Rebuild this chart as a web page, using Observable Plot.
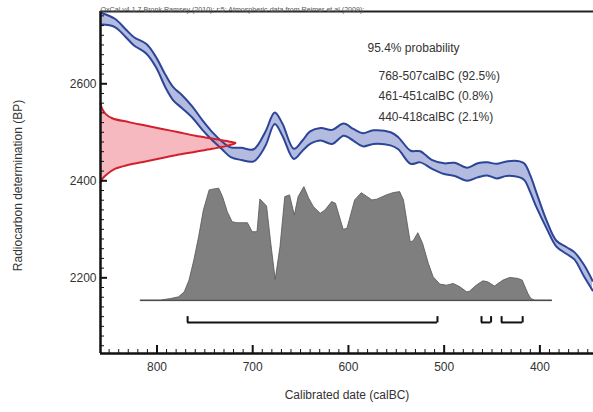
<!DOCTYPE html>
<html><head><meta charset="utf-8">
<script src="https://cdn.jsdelivr.net/npm/d3@7"></script>
<script src="https://cdn.jsdelivr.net/npm/@observablehq/plot@0.6"></script>
<style>html,body{margin:0;padding:0;background:#fff;} #chart svg{display:block}</style>
</head><body><div id="chart"></div>
<script>
// Calibration curve (IntCal09 band): calendar year (calBC), upper and lower BP
const calYears = [858,844,833,824,811,801,791,783,774,763,753,743,732,723,712,699,687,677,669,657,648,640,629,617,605,595,585,574,556,548,535,525,513,500,489,476,465,455,445,435,421,416,410,403,393,383,372,364,354,345];
const upperBP = [2746,2734,2713,2696,2682,2655,2618,2593,2577,2553,2526,2502,2481,2469,2468,2465,2500,2541,2518,2466,2483,2502,2509,2505,2518,2507,2498,2504,2500,2490,2462,2461,2443,2436,2437,2427,2436,2438,2435,2440,2440,2435,2411,2372,2318,2277,2263,2253,2227,2194];
const lowerBP = [2722,2717,2697,2679,2662,2634,2592,2566,2550,2530,2506,2485,2465,2449,2443,2440,2471,2517,2493,2445,2462,2476,2483,2476,2493,2483,2471,2476,2473,2465,2435,2438,2425,2414,2410,2400,2407,2411,2405,2410,2407,2401,2376,2343,2302,2265,2249,2238,2203,2174];

// Radiocarbon measurement distribution (red): BP and relative density
const redBP = [2559,2548,2538,2529,2521,2514,2507,2500,2493,2487,2481,2478,2473,2466,2460,2454,2447,2440,2433,2425,2414,2404,2397];
const redDensity = [0,0.013,0.037,0.087,0.21,0.333,0.457,0.58,0.704,0.827,0.95,1,0.95,0.827,0.704,0.58,0.457,0.333,0.21,0.11,0.05,0.013,0];

// Calibrated date distribution (grey): calendar year and relative probability (%)
const histYears = [817,796,785,777,771,766,761,756,751,745,740,735,731,726,721,716,705,700,695,692,685,681,676,671,666,661,656,652,646,641,636,629,624,617,613,605,601,593,586,575,570,560,553,546,542,535,532,527,522,516,511,504,497,490,483,476,473,466,459,454,447,438,431,423,418,412,409,405,387];
const histProb = [0,0,1.5,2.9,7.3,17.7,35.3,55.9,79.4,97.1,98.0,98.6,91.2,77.9,69.1,68.2,68.2,60.3,60.3,89.1,83.0,53.0,18.3,47.0,91.2,92.7,75.0,91.2,100,89.8,82.3,76.5,79.4,86.8,85.3,62.4,63.3,88.3,94.7,88.3,88.9,92.7,94.7,95.6,88.3,51.5,52.1,59.4,50.0,32.4,20.6,14.1,13.2,14.7,11.7,7.3,7.9,13.2,17.0,16.2,12.4,17.7,20.0,19.2,17.7,5.9,1.5,0,0];

// 95.4% ranges
const rangeFrom = [768,461,440];
const rangeTo = [507,451,418];
const rangePct = ["92.5","0.8","2.1"];
const probLabel = "95.4% probability";

// Axes
const xMajor = [800,700,600,500,400];
const xMinor = d3.range(350,860,10).filter(d => d % 100 !== 0);
const yMajor = [2200,2400,2600];
const yMinor = d3.range(2060,2750,20).filter(d => d % 200 !== 0);
const xTitle = "Calibrated date (calBC)";
const yTitle = "Radiocarbon determination (BP)";
const header = "OxCal v4.1.7 Bronk Ramsey (2010); r:5; Atmospheric data from Reimer et al (2009);";

// ---- layout ----
const W = 593, H = 412, mL = 100, mR = 0, mT = 11, mB = 59;
const plotW = W - mL - mR, plotH = H - mT - mB;
const xDomain = [859, 344], yDomain = [2044, 2749];
const redSpan = 141;      // calendar years spanned by the red peak
const histBase = 2153, histScale = 2.34, bracketBP = 2108;

const curve = calYears.map((x, i) => ({year: x, upper: upperBP[i], lower: lowerBP[i]}));
const red = redBP.map((b, i) => ({bp: b, p: redDensity[i]}));
const hist = histYears.map((x, i) => ({year: x, p: histProb[i]}));
const ranges = rangeFrom.map((f, i) => ({from: f, to: rangeTo[i]}));
const ends = rangeFrom.concat(rangeTo);
const rangeText = ranges.map((r, i) => `${r.from}-${r.to}calBC (${rangePct[i]}%)`).join("\n");

const font = "'Liberation Sans', Arial, Helvetica, sans-serif";
const blue = "#2c4596", blueFill = "#b3bbe0";

const chart = Plot.plot({
  width: W, height: H,
  marginLeft: mL, marginRight: mR, marginTop: mT, marginBottom: mB,
  style: {fontFamily: font, fontSize: "12px", background: "#fff", color: "#333"},
  x: {domain: xDomain},
  y: {domain: yDomain},
  marks: [
    // grey calibrated distribution
    Plot.areaY(hist, {x: "year", y1: () => histBase, y2: d => histBase + d.p * histScale, fill: "#7f7f7f", stroke: "#555", strokeWidth: 0.8}),
    Plot.ruleY([histBase], {x1: histYears[0], x2: histYears[histYears.length - 1], stroke: "#444", strokeWidth: 1}),
    // calibration band
    Plot.areaY(curve, {x: "year", y1: "lower", y2: "upper", fill: blueFill, curve: "catmull-rom"}),
    // red measurement distribution
    Plot.areaX(red, {y: "bp", x1: () => xDomain[0], x2: d => xDomain[0] - d.p * redSpan, fill: "#ee8a95", fillOpacity: 0.6, curve: "catmull-rom"}),
    Plot.lineY(curve, {x: "year", y: "upper", stroke: blue, strokeWidth: 2, curve: "catmull-rom"}),
    Plot.lineY(curve, {x: "year", y: "lower", stroke: blue, strokeWidth: 2, curve: "catmull-rom"}),
    Plot.lineX(red, {y: "bp", x: d => xDomain[0] - d.p * redSpan, stroke: "#d21f2e", strokeWidth: 2, curve: "catmull-rom"}),
    // range brackets
    Plot.ruleY(ranges, {y: () => bracketBP, x1: "from", x2: "to", stroke: "#111", strokeWidth: 2}),
    Plot.ruleX(ends, {x: d => d, y1: () => bracketBP - 1, y2: () => bracketBP + 12, stroke: "#111", strokeWidth: 2}),
    // inward ticks
    Plot.tickX(xMinor, {x: d => d, insetTop: plotH - 4, stroke: "#111", strokeWidth: 1}),
    Plot.tickX(xMajor, {x: d => d, insetTop: plotH - 8, stroke: "#111", strokeWidth: 2}),
    Plot.tickY(yMinor, {y: d => d, insetRight: plotW - 4, stroke: "#111", strokeWidth: 1}),
    Plot.tickY(yMajor, {y: d => d, insetRight: plotW - 7, stroke: "#111", strokeWidth: 2}),
    // frame
    Plot.ruleX([xDomain[0]], {stroke: "#111", strokeWidth: 2.5}),
    Plot.ruleY([yDomain[0]], {stroke: "#111", strokeWidth: 2.5}),
    Plot.ruleY([yDomain[1]], {stroke: "#222", strokeWidth: 2}),
    // axes labels
    Plot.axisX(xMajor, {anchor: "bottom", tickSize: 0, tickPadding: 9, label: null, fontSize: 12, fill: "#333", tickFormat: d => String(d)}),
    Plot.axisY(yMajor, {anchor: "left", tickSize: 0, tickPadding: 4, label: null, fontSize: 12, fill: "#333", tickFormat: d => String(d)}),
    Plot.text([xTitle], {frameAnchor: "bottom", dy: 45, fontSize: 12, fill: "#333"}),
    Plot.text([yTitle], {frameAnchor: "left", dx: -82, dy: 3, rotate: -90, textAnchor: "middle", fontSize: 12, fill: "#333"}),
    Plot.text([header], {frameAnchor: "top-left", dy: -5, textAnchor: "start", fontSize: 7.1, fill: "#555"}),
    Plot.text([probLabel], {frameAnchor: "top-left", dx: 267, dy: 31.5, lineAnchor: "top", textAnchor: "start", fontSize: 12, fill: "#333"}),
    Plot.text([rangeText], {frameAnchor: "top-left", dx: 278, dy: 53.7, lineAnchor: "top", lineHeight: 1.71, textAnchor: "start", fontSize: 12, fill: "#333"})
  ]
});
document.getElementById("chart").appendChild(chart);
</script>
</body></html>
